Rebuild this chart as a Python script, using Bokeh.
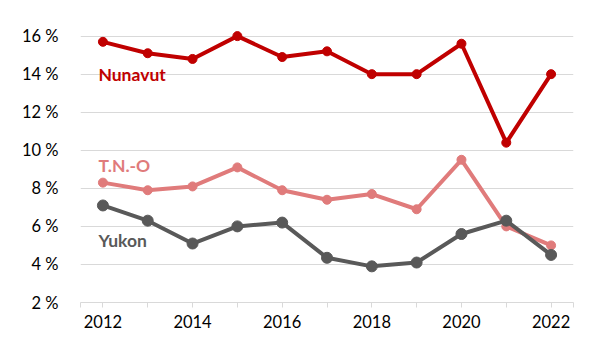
from bokeh.plotting import figure
from bokeh.models import FixedTicker, PrintfTickFormatter, Range1d
from bokeh.core.properties import value
from bokeh.embed import file_html
from bokeh.resources import INLINE

years = [2012, 2013, 2014, 2015, 2016, 2017, 2018, 2019, 2020, 2021, 2022]
nunavut = [15.7, 15.1, 14.8, 16.0, 14.9, 15.2, 14.0, 14.0, 15.6, 10.4, 14.0]
tno = [8.3, 7.9, 8.1, 9.1, 7.9, 7.4, 7.7, 6.9, 9.5, 6.0, 5.0]
yukon = [7.1, 6.3, 5.1, 6.0, 6.2, 4.35, 3.9, 4.1, 5.6, 6.3, 4.5]
y_ticks = [2, 4, 6, 8, 10, 12, 14, 16]
series_names = ["Nunavut", "T.N.-O", "Yukon"]
label_y = [14.0, 9.2, 5.25]

FONT = "Lato"
colors = ["#C00000", "#E07B7B", "#595959"]

p = figure(width=612, height=357, output_backend="svg", toolbar_location=None,
           x_range=Range1d(2011.5, 2022.5), y_range=Range1d(2, 16.4),
           min_border_left=80, min_border_right=39, min_border_top=28, min_border_bottom=55)
p.outline_line_color = None
p.background_fill_color = "white"
p.border_fill_color = "white"

# y axis
p.yaxis.ticker = FixedTicker(ticks=y_ticks)
p.yaxis.formatter = PrintfTickFormatter(format="%d %%")
p.yaxis.axis_line_color = None
p.yaxis.major_tick_line_color = None
p.yaxis.minor_tick_line_color = None
p.yaxis.major_label_text_font = FONT
p.yaxis.major_label_text_font_size = "16.5px"
p.yaxis.major_label_text_color = "black"
p.yaxis.major_label_standoff = 16
p.ygrid.ticker = FixedTicker(ticks=y_ticks[1:])
p.ygrid.grid_line_color = "#D9D9D9"
p.ygrid.grid_line_width = 1

# x axis
p.xaxis.ticker = FixedTicker(ticks=years, minor_ticks=[2011.5, 2022.5])
p.xaxis.major_label_overrides = {y: (str(y) if y % 2 == 0 else "") for y in years}
p.xaxis.axis_line_color = "#D9D9D9"
p.xaxis.major_tick_line_color = "#D9D9D9"
p.xaxis.minor_tick_line_color = "#D9D9D9"
p.xaxis.major_tick_in = 0
p.xaxis.major_tick_out = 5
p.xaxis.minor_tick_in = 0
p.xaxis.minor_tick_out = 5
p.xaxis.major_label_text_font = FONT
p.xaxis.major_label_text_font_size = "16.5px"
p.xaxis.major_label_text_color = "black"
p.xaxis.major_label_standoff = 7
p.xgrid.grid_line_color = None

data = [nunavut, tno, yukon]
sizes = [9, 9, 11]
for vals, col, sz in zip(data, colors, sizes):
    p.line(years, vals, line_color=col, line_width=4)
    p.scatter(years, vals, size=sz, fill_color=col, line_color=col)

p.text(x=[2011.9] * 3, y=label_y, text=series_names, text_color=colors,
       text_font=value(FONT), text_font_size="17.5px", text_font_style="bold",
       text_baseline="middle", text_align="left")

open("out.html", "w").write(file_html(p, INLINE))
